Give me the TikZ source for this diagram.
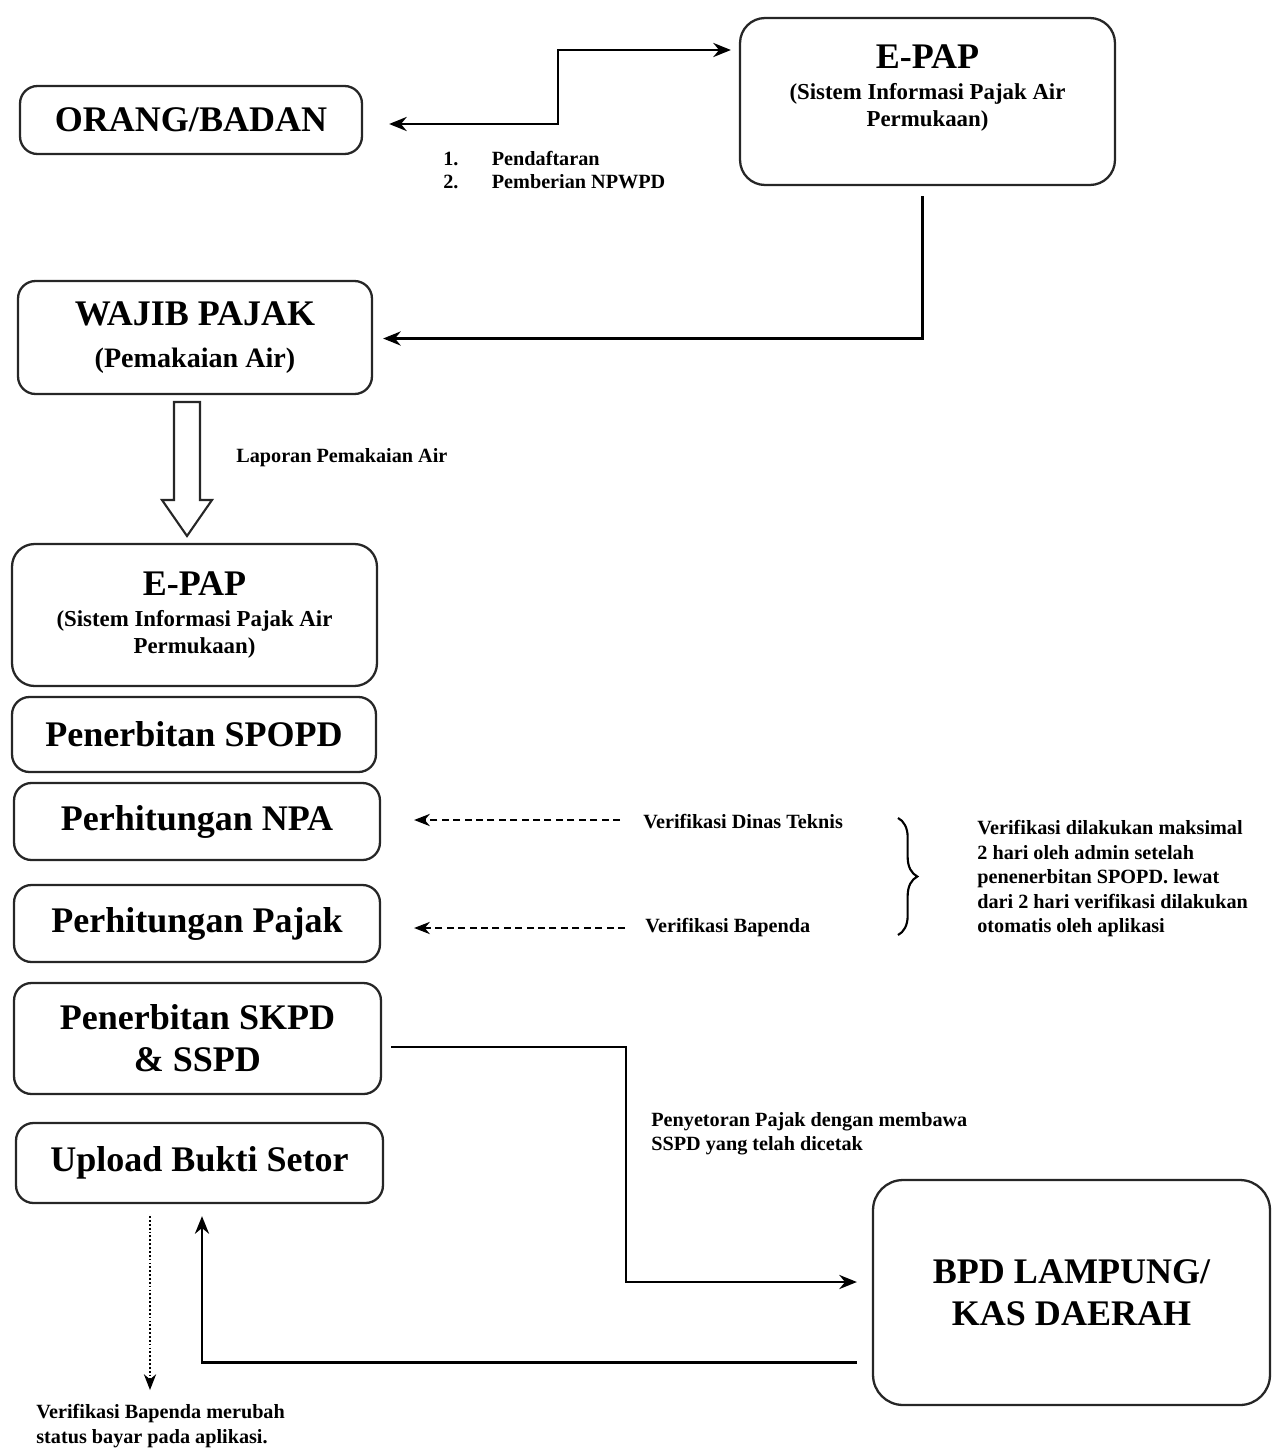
\documentclass[tikz,border=0pt]{standalone}
\usepackage{fontspec}
\setmainfont{Liberation Serif}
\usetikzlibrary{arrows.meta,decorations.pathreplacing,calc}
\begin{document}
\begin{tikzpicture}[x=0.02cm,y=-0.02cm,
  box/.style={draw=black!85, line width=1.3pt, rounded corners=0.35cm, align=center, inner sep=2pt,
    font=\bfseries\fontsize{20.5}{24}\selectfont},
  subbox/.style={box, font=\bfseries\fontsize{13}{15.3}\selectfont},
  lab/.style={font=\bfseries\fontsize{11.5}{14}\selectfont, inner sep=0pt, align=left},
  arr/.style={line width=1.6pt, -{Stealth[length=10pt,width=8pt]}},
  darr/.style={line width=0.9pt, dash pattern=on 4pt off 2.5pt, -{Stealth[length=9pt,width=7pt]}},
  dotarr/.style={line width=0.8pt, dash pattern=on 1pt off 1.2pt, -{Stealth[length=9pt,width=7pt]}},
  hollow/.style={draw=black!85, line width=1.2pt, fill=white, line join=miter}
]
\useasboundingbox (0,0) rectangle (1276,1450);

% boxes
\node[box, minimum width=6.84cm, minimum height=1.36cm] (orang) at (191,120) {ORANG/BADAN};
\node[subbox, minimum width=7.5cm, minimum height=3.34cm, rounded corners=0.5cm] (epap1) at (927.5,101.5)
  {{\fontsize{20.5}{24}\selectfont E-PAP}\\[2.3pt](Sistem Informasi Pajak Air\\Permukaan)\\[3pt]\mbox{}};
\node[box, minimum width=7.08cm, minimum height=2.26cm] (wajib) at (195,337.5)
  {WAJIB PAJAK\\\fontsize{16}{20}\selectfont (Pemakaian Air)};
\node[subbox, minimum width=7.3cm, minimum height=2.84cm, rounded corners=0.45cm] (epap2) at (194.5,615)
  {{\fontsize{20.5}{24}\selectfont E-PAP}\\[2.3pt](Sistem Informasi Pajak Air\\Permukaan)};
\node[box, minimum width=7.28cm, minimum height=1.5cm] (spopd) at (194,734.5) {Penerbitan SPOPD};
\node[box, minimum width=7.32cm, minimum height=1.54cm] (npa) at (197,821.5) {Perhitungan NPA};
\node[box, minimum width=7.32cm, minimum height=1.54cm] (pajak) at (197,923.5) {Perhitungan Pajak};
\node[box, minimum width=7.34cm, minimum height=2.22cm] (skpd) at (197.5,1038.5) {Penerbitan SKPD\\\& SSPD};
\node[box, minimum width=7.34cm, minimum height=1.6cm] (upload) at (199.5,1163) {Upload Bukti Setor};
\node[box, minimum width=7.94cm, minimum height=4.5cm, rounded corners=0.6cm] (bpd) at (1071.5,1292.5)
  {BPD LAMPUNG/\\KAS DAERAH};

% labels
\node[lab, anchor=north west] (list) at (443,148)
  {\begin{tabular}{@{}l@{\hspace{19pt}}l@{}}1. & Pendaftaran\\[-1pt] 2. & Pemberian NPWPD\end{tabular}};
\node[lab, anchor=west] (lapor) at (236,458) {Laporan Pemakaian Air};
\node[lab, anchor=west] (vdt) at (643,822) {Verifikasi Dinas Teknis};
\node[lab, anchor=west] (vb) at (645,928) {Verifikasi Bapenda};
\node[lab, anchor=north west] (note) at (977,820)
  {Verifikasi dilakukan maksimal\\2 hari oleh admin setelah\\penenerbitan SPOPD. lewat\\dari 2 hari verifikasi dilakukan\\otomatis oleh aplikasi};
\node[lab, anchor=north west] (setor) at (651,1112)
  {Penyetoran Pajak dengan membawa\\SSPD yang telah dicetak};
\node[lab, anchor=north west] (bayar) at (36,1404)
  {Verifikasi Bapenda merubah\\status bayar pada aplikasi.};
\coordinate (dotend) at (150,1390);

% connectors
\draw[line width=1.6pt, {Stealth[length=10pt,width=8pt]}-{Stealth[length=10pt,width=8pt]}]
  ($(orang.east)+(26,4)$) -| (558,50) -- ($(epap1.west|-558,50)+(-8,0)$);
\draw[arr] ($(epap1.south)+(-5,10)$) |- ($(wajib.east)+(10,1)$);
\draw[hollow] (174,402) -- (200,402) -- (200,500) -- (212,500) -- (187,536) -- (162,500) -- (174,500) -- cycle;
\draw[darr] ($(vdt.west)+(-23,-2)$) -- ($(npa.east|-vdt.west)+(33,-2)$);
\draw[darr] ($(vb.west)+(-20,0)$) -- ($(pajak.east|-vb.west)+(33,0)$);
\draw[line width=1.2pt, decorate, decoration={brace, amplitude=11pt}] (898,818) -- (898,935);
\draw[arr] ($(skpd.east)+(9,8.5)$) -| (626,1282) -- ($(bpd.west|-626,1282)+(-15,0)$);
\draw[arr] ($(bpd.west)+(-15,70)$) -| ($(upload.south)+(2.5,12)$);
\draw[dotarr] ($(upload.south)+(-49.5,12)$) -- (dotend);
\end{tikzpicture}
\end{document}
